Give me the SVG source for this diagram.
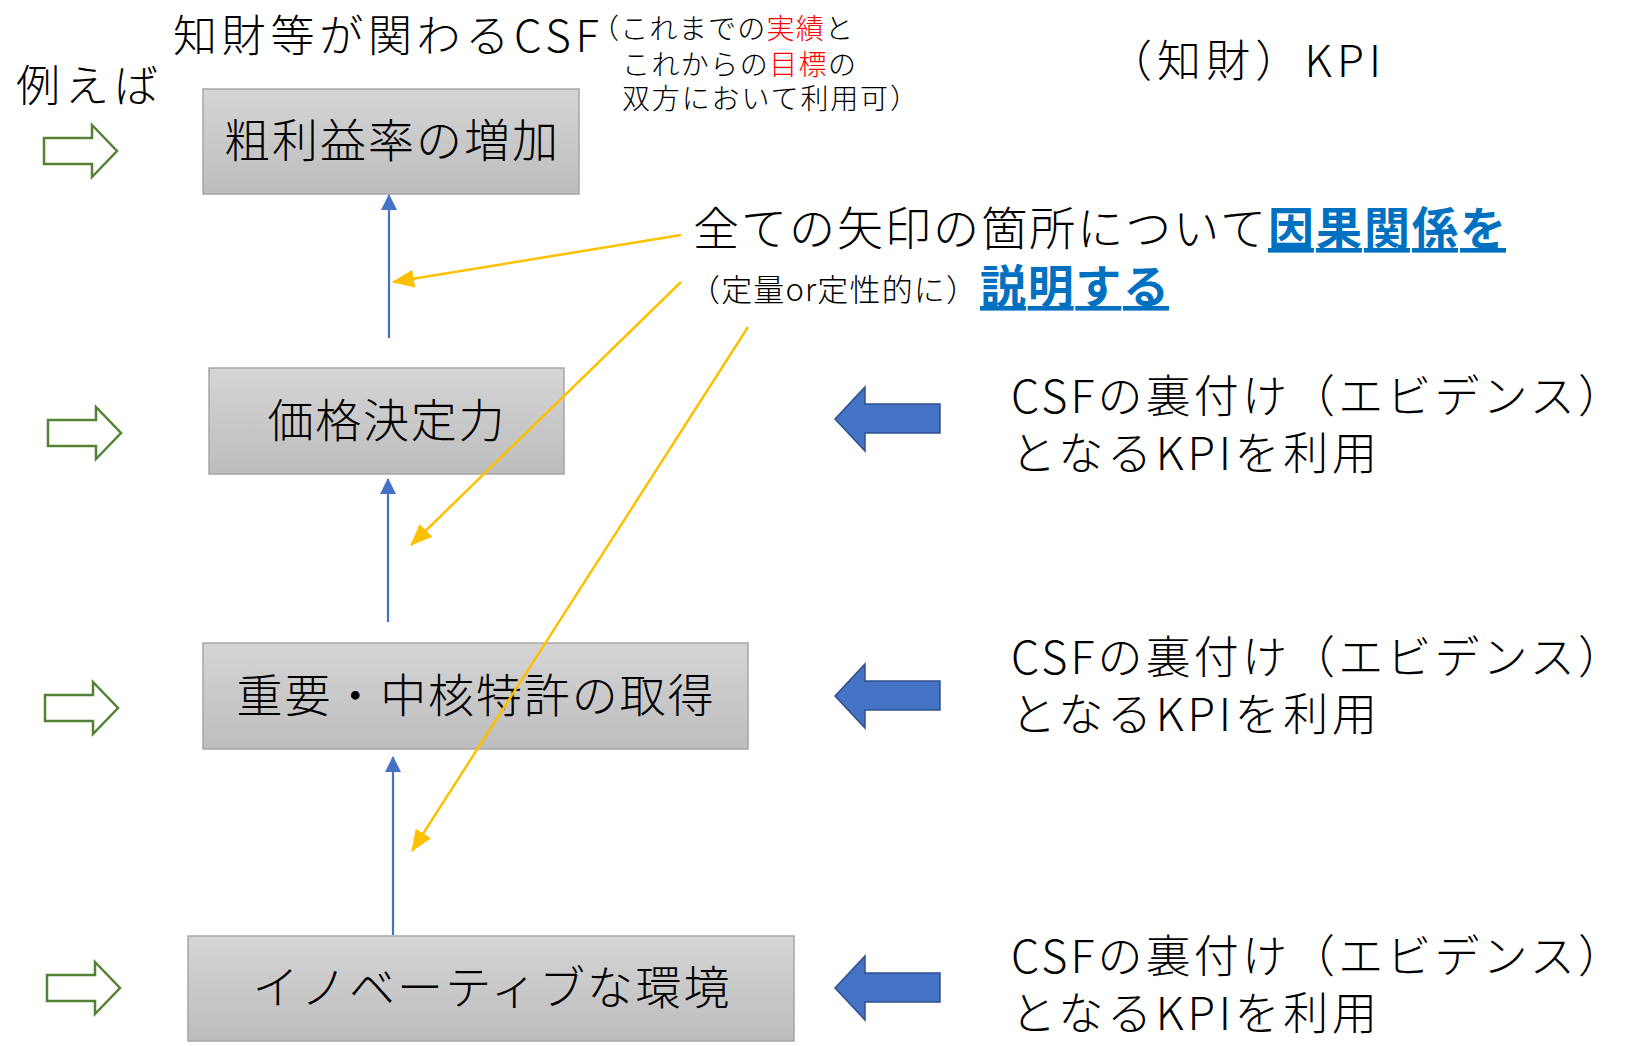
<svg xmlns="http://www.w3.org/2000/svg" width="1626" height="1046" viewBox="0 0 1626 1046">
<defs>
<linearGradient id="boxg" x1="0" y1="0" x2="0" y2="1">
<stop offset="0" stop-color="#d5d5d5"/>
<stop offset="1" stop-color="#bdbdbd"/>
</linearGradient>
<marker id="ah-blue" markerUnits="userSpaceOnUse" markerWidth="16" markerHeight="16" viewBox="0 0 16 16" refX="15" refY="8" orient="auto">
<path d="M0,0 L16,8 L0,16 Z" fill="#4472c4"/>
</marker>
<marker id="ah-yel" markerUnits="userSpaceOnUse" markerWidth="22" markerHeight="18" viewBox="0 0 22 18" refX="21" refY="9" orient="auto">
<path d="M0,0 L22,9 L0,18 Z" fill="#ffc000"/>
</marker>
</defs>
<style>
text{font-family:"Noto Sans CJK JP","Noto Sans",sans-serif;fill:#000;font-weight:300}
.box{fill:url(#boxg);stroke:#a6a6a6;stroke-width:1.5}
.nt{font-size:46px;text-anchor:middle}
.big{font-size:44px}
.sm{font-size:28px}
.rt{font-size:45px}
.hl{fill:#0070c0;font-weight:bold}
.red{fill:#ff0000}
.garr{fill:#fff;stroke:#548235;stroke-width:2.5}
.barr{fill:#4472c4;stroke:#2f528f;stroke-width:1.5}
.blue{stroke:#4472c4;stroke-width:2.2;fill:none;marker-end:url(#ah-blue)}
.yel{stroke:#ffc000;stroke-width:2.5;fill:none;marker-end:url(#ah-yel)}
</style>
<rect width="1626" height="1046" fill="#fff"/>

<g id="headers">
<text class="big" x="173" y="52" textLength="426" lengthAdjust="spacing">知財等が関わるCSF</text>
<text class="big" x="16" y="102" textLength="142" lengthAdjust="spacing">例えば</text>
<text class="sm"><tspan x="591" y="39" textLength="262" lengthAdjust="spacing">（これまでの<tspan class="red">実績</tspan>と</tspan><tspan x="622" y="75" textLength="234" lengthAdjust="spacing">これからの<tspan class="red">目標</tspan>の</tspan><tspan x="622" y="109" textLength="296" lengthAdjust="spacing">双方において利用可）</tspan></text>
<text x="1108" y="77" style="font-size:44px" textLength="273" lengthAdjust="spacing">（知財）KPI</text>
</g>

<g id="node-gross-margin">
<rect class="box" x="203" y="89" width="376" height="105"/>
<text class="nt" x="391" y="157" textLength="334" lengthAdjust="spacing">粗利益率の増加</text>
</g>
<g id="node-pricing-power">
<rect class="box" x="209" y="368" width="355" height="106"/>
<text class="nt" x="386" y="437" textLength="237" lengthAdjust="spacing">価格決定力</text>
</g>
<g id="node-core-patents">
<rect class="box" x="203" y="643" width="545" height="106"/>
<text class="nt" x="475" y="712" textLength="477" lengthAdjust="spacing">重要・中核特許の取得</text>
</g>
<g id="node-innovative-env">
<rect class="box" x="188" y="936" width="606" height="105"/>
<text class="nt" x="491" y="1004" textLength="477" lengthAdjust="spacing">イノベーティブな環境</text>
</g>

<g id="note">
<text x="693" y="245" style="font-size:46px" textLength="813" lengthAdjust="spacing">全ての矢印の箇所について<tspan class="hl" text-decoration="underline">因果関係を</tspan></text>
<text x="689" y="301" style="font-size:31px" textLength="288" lengthAdjust="spacing">（定量or定性的に）</text>
<text x="980" y="303" style="font-size:46px" class="hl" text-decoration="underline" textLength="189" lengthAdjust="spacing">説明する</text>
</g>

<g id="green-arrows">
<path class="garr" d="M44,138 H92 V125 L117,151 L92,177 V164 H44 Z"/>
<path class="garr" d="M48,420 H96 V407 L121,433 L96,459 V446 H48 Z"/>
<path class="garr" d="M45,695 H93 V682 L118,708 L93,734 V721 H45 Z"/>
<path class="garr" d="M47,975 H95 V962 L120,988 L95,1014 V1001 H47 Z"/>
</g>

<g id="kpi-row1">
<path class="barr" d="M835,419 L865,387 V404 H940 V433 H865 V451 Z"/>
<text class="rt" x="1011" y="413" textLength="612" lengthAdjust="spacing">CSFの裏付け（エビデンス）</text>
<text class="rt" x="1011" y="470" textLength="366" lengthAdjust="spacing">となるKPIを利用</text>
</g>
<g id="kpi-row2">
<path class="barr" d="M835,696 L865,664 V681 H940 V710 H865 V728 Z"/>
<text class="rt" x="1011" y="674" textLength="612" lengthAdjust="spacing">CSFの裏付け（エビデンス）</text>
<text class="rt" x="1011" y="731" textLength="366" lengthAdjust="spacing">となるKPIを利用</text>
</g>
<g id="kpi-row3">
<path class="barr" d="M835,988 L865,956 V973 H940 V1002 H865 V1020 Z"/>
<text class="rt" x="1011" y="973" textLength="612" lengthAdjust="spacing">CSFの裏付け（エビデンス）</text>
<text class="rt" x="1011" y="1030" textLength="366" lengthAdjust="spacing">となるKPIを利用</text>
</g>

<g id="connectors">
<line class="blue" x1="389" y1="338" x2="389" y2="195"/>
<line class="blue" x1="388" y1="622" x2="388" y2="479"/>
<line class="blue" x1="393" y1="935" x2="393" y2="757"/>
<line class="yel" x1="681" y1="235" x2="393" y2="282"/>
<line class="yel" x1="681" y1="282" x2="411" y2="545"/>
<line class="yel" x1="748" y1="327" x2="412" y2="851"/>
</g>
</svg>
